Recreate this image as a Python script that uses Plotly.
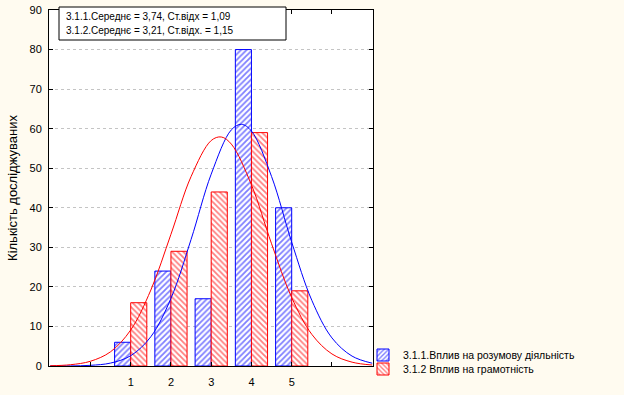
import plotly.graph_objects as go

# ---- data ----
categories = [1, 2, 3, 4, 5]
blue_counts = [6, 24, 17, 80, 40]
red_counts = [16, 29, 44, 59, 19]
blue_name = "3.1.1.Вплив на розумову діяльність"
red_name = "3.1.2 Вплив на грамотність"

# fitted normal curves
curve_x_blue = [-1, -0.5, 0, 0.5, 1, 1.5, 2, 2.5, 3, 3.5, 3.75, 4, 4.5, 5, 5.5, 6, 6.5, 7]
curve_y_blue = [0.0, 0.03, 0.17, 0.74, 2.6, 7.4, 17.1, 32.0, 48.5, 59.7, 61.1, 59.4, 47.9, 31.3, 16.6, 7.1, 2.5, 0.7]
curve_x_red = [-1, -0.5, 0, 0.5, 1, 1.5, 2, 2.5, 3, 3.25, 3.5, 4, 4.5, 5, 5.5, 6, 6.5, 7]
curve_y_red = [0.07, 0.32, 1.2, 3.6, 9.1, 19.2, 33.3, 47.9, 57.0, 57.9, 56.1, 45.8, 30.9, 17.3, 8.0, 3.05, 0.97, 0.25]

x_tickvals = [0, 1, 2, 3, 4, 5, 6]
x_ticktext = ["", "1", "2", "3", "4", "5", ""]
stats_lines = ["3.1.1.Середнє = 3,74, Ст.відх = 1,09",
               "3.1.2.Середнє = 3,21, Ст.відх. = 1,15"]
y_title = "Кількість досліджуваних"

FONT = "Liberation Sans, Arial, sans-serif"
BLUE = "#0000FF"
RED = "#FF0000"
BG = "#FFFBF0"

fig = go.Figure()
fig.add_trace(go.Bar(
    x=categories, y=blue_counts, name=blue_name, legend="legend",
    marker=dict(color="white", line=dict(color=BLUE, width=1),
                pattern=dict(shape="/", fgcolor=BLUE, bgcolor="white", size=4, solidity=0.45)),
))
fig.add_trace(go.Bar(
    x=categories, y=red_counts, name=red_name, legend="legend2",
    marker=dict(color="white", line=dict(color=RED, width=1),
                pattern=dict(shape="\\", fgcolor=RED, bgcolor="white", size=4, solidity=0.45)),
))
fig.add_trace(go.Scatter(x=curve_x_blue, y=curve_y_blue, mode="lines",
                         line=dict(color=BLUE, width=1, shape="spline"), showlegend=False))
fig.add_trace(go.Scatter(x=curve_x_red, y=curve_y_red, mode="lines",
                         line=dict(color=RED, width=1, shape="spline"), showlegend=False))

L, R, T, B = 49, 251, 10, 29
W, H = 624, 395
pw, ph = W - L - R, H - T - B

def px(xp):
    return (xp - L) / pw

def py(yp):
    return (H - B - yp) / ph

fig.add_shape(type="rect", xref="paper", yref="paper",
              x0=px(59), x1=px(286), y0=py(40), y1=py(7),
              line=dict(color="black", width=1), fillcolor="white", layer="above")
for t, yc in zip(stats_lines, [16, 31]):
    fig.add_annotation(xref="paper", yref="paper", x=px(64), y=py(yc),
                       xanchor="left", yanchor="middle", text=t, showarrow=False,
                       font=dict(family=FONT, size=10, color="black"))

legend_common = dict(xanchor="left", yanchor="middle",
                     font=dict(family=FONT, size=10.5), bgcolor="rgba(0,0,0,0)",
                     itemwidth=30, borderwidth=0)

fig.update_layout(
    width=W, height=H,
    margin=dict(l=L, r=R, t=T, b=B, pad=0, autoexpand=False),
    paper_bgcolor=BG, plot_bgcolor="white",
    barmode="group", bargap=0.2, bargroupgap=0,
    font=dict(family=FONT, size=11, color="black"),
    legend=dict(x=px(363), y=py(355), **legend_common),
    legend2=dict(x=px(363), y=py(369), **legend_common),
    xaxis=dict(range=[-1.03, 7.02], tickvals=x_tickvals, ticktext=x_ticktext,
               ticks="inside", ticklen=4, tickcolor="black", mirror="ticks",
               showline=True, linecolor="black", linewidth=1, showgrid=False,
               zeroline=False, ticklabelstandoff=6, tickfont=dict(size=11),
               automargin=False),
    yaxis=dict(range=[0, 90], dtick=10, ticks="inside", ticklen=4, tickcolor="black",
               mirror="ticks", showline=True, linecolor="black", linewidth=1,
               showgrid=True, gridcolor="#C4C4C4", griddash="dot", gridwidth=1,
               zeroline=False, ticklabelstandoff=4, tickfont=dict(size=11),
               automargin=False,
               title=dict(text=y_title, font=dict(size=13), standoff=8)),
)

fig.write_html("out.html", config={"displayModeBar": False},
               post_script="document.body.style.margin='0';document.body.style.background='%s';" % BG)
